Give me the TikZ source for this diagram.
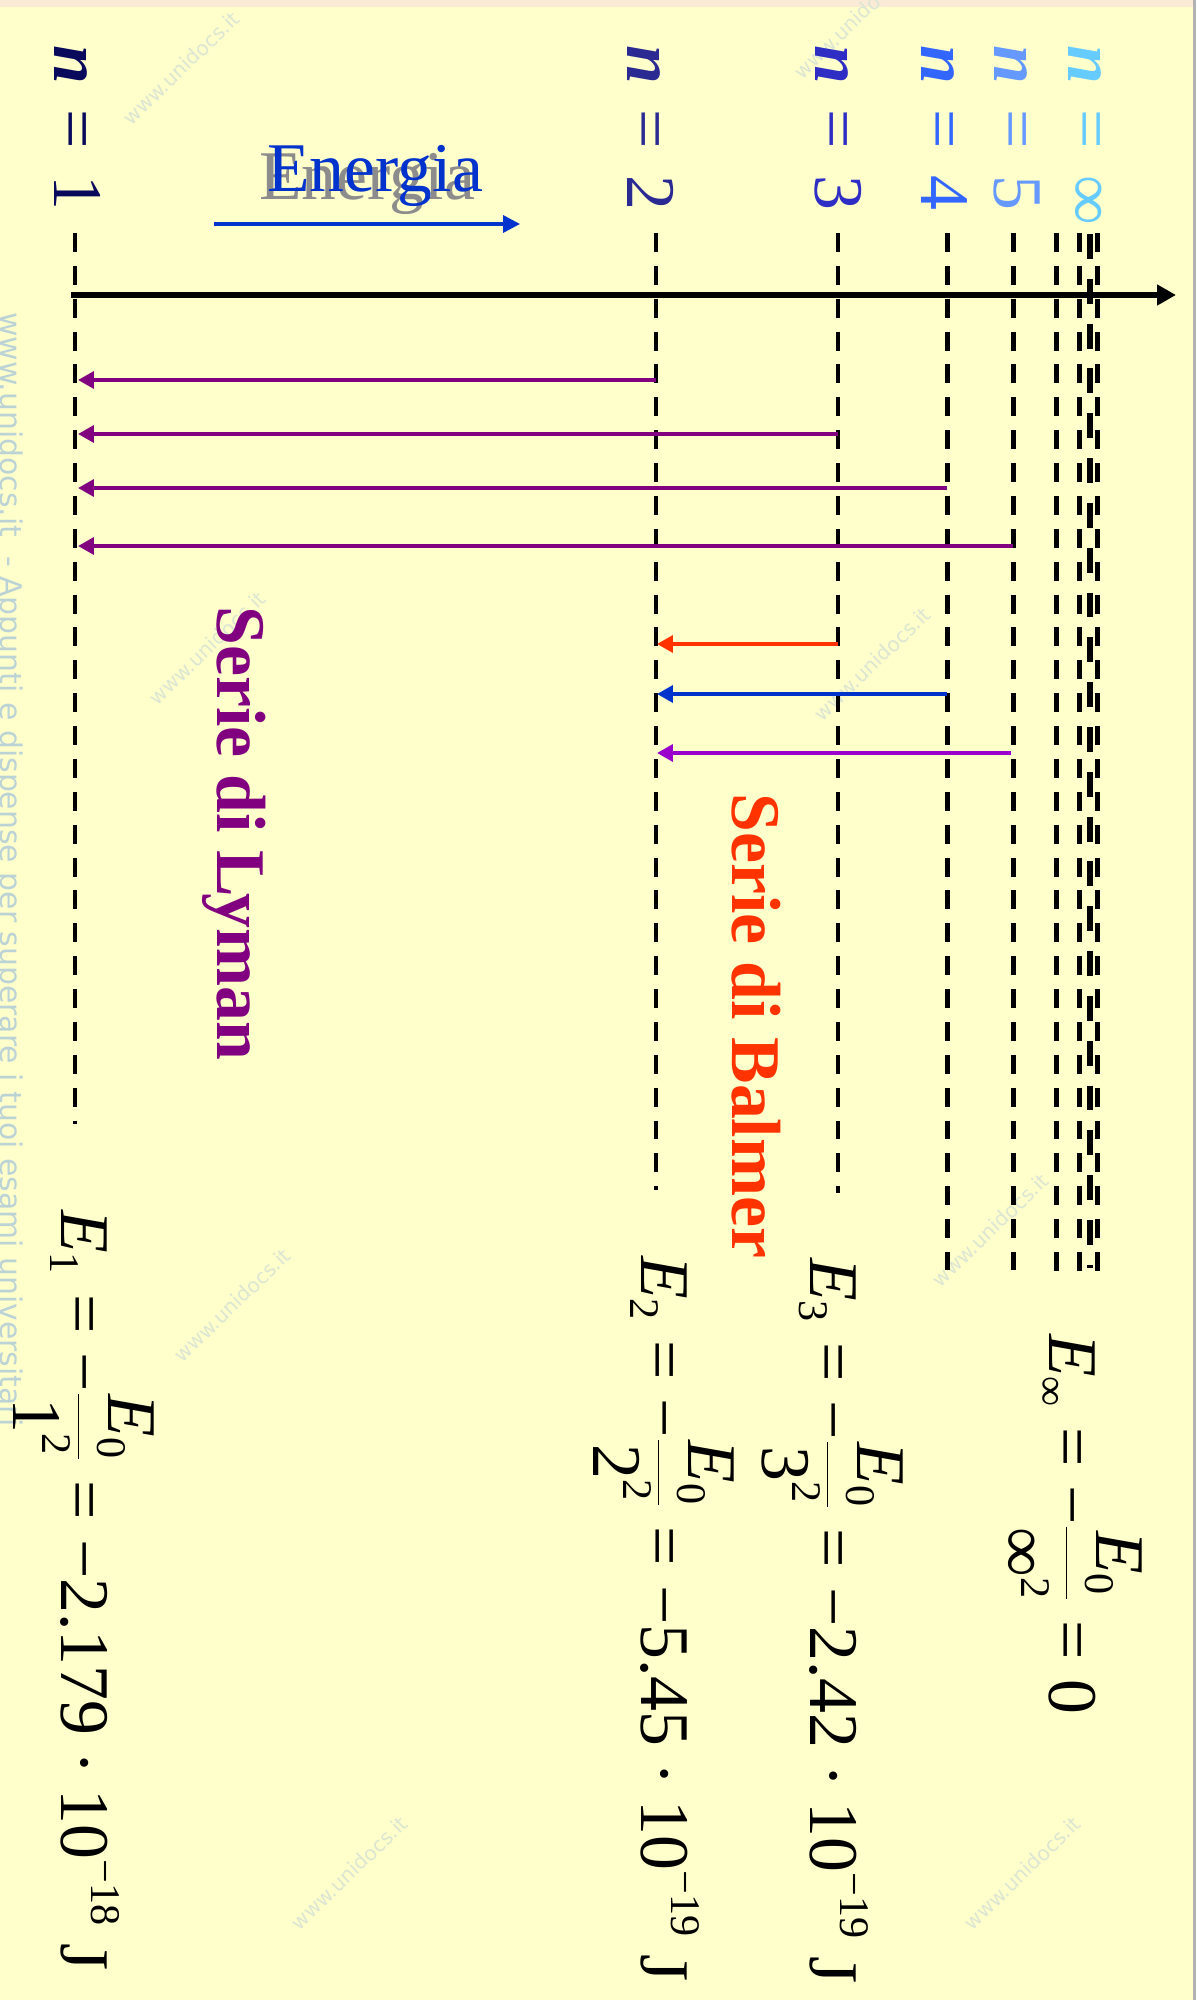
\RequirePackage{fix-cm}
\documentclass[tikz,border=0pt]{standalone}
\usepackage{amsmath}
\usepackage{fontspec}
\setmainfont{Liberation Serif}
\newfontfamily\wmfont{DejaVu Sans}
\usetikzlibrary{arrows.meta}
\DeclareMathSizes{39.7}{39.7}{24}{18}
\definecolor{bg}{HTML}{FFFFCC}
\definecolor{topstrip}{HTML}{FBEBD6}
\definecolor{cnone}{HTML}{0A0A5C}
\definecolor{cntwo}{HTML}{2A2A92}
\definecolor{cnthree}{HTML}{2E2EC4}
\definecolor{cnfour}{HTML}{3366FF}
\definecolor{cnfive}{HTML}{6699FF}
\definecolor{cninf}{HTML}{66CCFF}
\definecolor{enblue}{HTML}{0033CC}
\definecolor{lypurple}{HTML}{800080}
\definecolor{bared}{HTML}{FF3300}
\definecolor{bablue}{HTML}{0033CC}
\definecolor{baviolet}{HTML}{9900CC}
\definecolor{wm}{HTML}{BCD3D6}
\definecolor{wmtwo}{HTML}{DCE6D2}
\definecolor{shadowgray}{HTML}{8C8C8C}
\newcommand\slidefont{\fontsize{39.7pt}{48pt}\selectfont}
\newcommand\wmsize{\fontsize{17pt}{20pt}\selectfont}
\newcommand\wmsmall{\fontsize{11.5pt}{14pt}\selectfont}
\newcommand\tE{\textit{E}}
\newcommand\req{\mathrel{\textrm{=}}}
\newcommand\rmin{\mathord{\textrm{−}}}
\newcommand\rdot{\mathbin{\textrm{·}}}
\newcommand\tr[1]{\textrm{#1}}
\newcommand\nlab[1]{\textbf{\textit{n}}\hspace{0.37em}=\hspace{0.37em}#1}
\begin{document}
\begin{tikzpicture}[x=0.02cm,y=-0.02cm,
  level/.style={line width=2.83pt, dash pattern=on 10.77pt off 7.94pt},
  levelthick/.style={line width=3.4pt, dash pattern=on 14.17pt off 11.34pt},
  axisline/.style={line width=3.4pt, -{Triangle[length=10.8pt,width=11.3pt]}},
  transition/.style={line width=2.2pt, -{Triangle[length=9.1pt,width=9.6pt]}},
  nlabel/.style={rotate=-90, anchor=base west, inner sep=0pt, font=\slidefont},
  series/.style={rotate=-90, anchor=base west, inner sep=0pt, font=\slidefont\bfseries},
  eq/.style={rotate=-90, anchor=base west, inner sep=0pt, font=\slidefont},
  wmdiag/.style={rotate=44, inner sep=0pt, font=\wmfont\wmsmall, text=wmtwo}]
\useasboundingbox (0,0) rectangle (1196,2000);
\fill[bg] (0,0) rectangle (1196,2000);
\fill[topstrip] (0,0) rectangle (1196,7);
\draw[gray!60, line width=1.7pt] (1194.5,0) -- (1194.5,2000);
% watermarks
\node[rotate=-90, anchor=base west, inner sep=0pt, font=\wmfont\wmsize, text=wm] (wmleft) at (1,312) {www.unidocs.it\ \ - Appunti e dispense per superare i tuoi esami universitari};
\foreach \i/\px/\py in {a/181/68, b/852/22, c/207/648, d/872/664, e/990/1230, f/232/1305, g/349/1873, h/1022/1873}
  \node[wmdiag] (wm\i) at (\px,\py) {www.unidocs.it};
% energy levels
\foreach \nm/\x/\yb in {L1/75/1124, L2/656/1190, L3/838/1193, L4/947/1270, L5/1013/1270, L6/1056/1272, L7/1079/1272, L9/1097/1272}{
  \coordinate (\nm t) at (\x,233);
  \coordinate (\nm b) at (\x,\yb);
  \draw[level] (\nm t) -- (\nm b);
}
\coordinate (L8t) at (1090,234);
\coordinate (L8b) at (1090,1268);
\draw[levelthick] (L8t) -- (L8b);
% axis
\coordinate (ax0) at (71,295);
\coordinate (ax1) at (1176,295);
\draw[axisline] (ax0) -- (ax1);
% Lyman
\foreach \k/\x/\y in {2/656/380, 3/838/434, 4/947/488, 5/1013/546}{
  \coordinate (ly\k s) at (\x,\y);
  \coordinate (ly\k e) at (78,\y);
  \draw[transition, lypurple] (ly\k s) -- (ly\k e);
}
% Balmer
\coordinate (ba3s) at (838,644); \coordinate (ba3e) at (657,644);
\coordinate (ba4s) at (947,694); \coordinate (ba4e) at (657,694);
\coordinate (ba5s) at (1011,753); \coordinate (ba5e) at (657,753);
\draw[transition, bared] (ba3s) -- (ba3e);
\draw[transition, bablue] (ba4s) -- (ba4e);
\draw[transition, baviolet] (ba5s) -- (ba5e);
% level labels
\node[nlabel, text=cnone] (n1) at (54,45) {\nlab{1}};
\node[nlabel, text=cntwo] (n2) at (627,45) {\nlab{2}};
\node[nlabel, text=cnthree] (n3) at (815,45) {\nlab{3}};
\node[nlabel, text=cnfour] (n4) at (921,45) {\nlab{4}};
\node[nlabel, text=cnfive] (n5) at (994,45) {\nlab{5}};
\node[nlabel, text=cninf] (ninf) at (1068,45) {\nlab{∞}};
% Energia
\node[anchor=base west, inner sep=0pt, font=\slidefont, text=shadowgray] (ensh) at (259,200) {Energia};
\node[anchor=base west, inner sep=0pt, font=\slidefont, text=enblue] (en) at (267,192) {Energia};
\coordinate (ea0) at (214,224);
\coordinate (ea1) at (520,224);
\draw[line width=2pt, enblue, -{Triangle[length=9.6pt,width=9.6pt]}] (ea0) -- (ea1);
% series
\node[series, text=lypurple] (lyman) at (217,606) {Serie di Lyman};
\node[series, text=bared] (balmer) at (732,793) {Serie di Balmer};
% equations
\node[eq] (einf) at (1049,1334) {$\displaystyle \tE_{\tr{∞}}\req\rmin\frac{\tE_{\tr{0}}}{\tr{∞}^{\tr{2}}}\req\tr{0}$};
\node[eq] (ethree) at (810,1258) {$\displaystyle \tE_{\tr{3}}\req\rmin\frac{\tE_{\tr{0}}}{\tr{3}^{\tr{2}}}\req\rmin\tr{2.42}\rdot\tr{10}^{\tr{−19}}\ \tr{J}$};
\node[eq] (etwo) at (641,1256) {$\displaystyle \tE_{\tr{2}}\req\rmin\frac{\tE_{\tr{0}}}{\tr{2}^{\tr{2}}}\req\rmin\tr{5.45}\rdot\tr{10}^{\tr{−19}}\ \tr{J}$};
\node[eq] (eone) at (61,1210) {$\displaystyle \tE_{\tr{1}}\req\rmin\frac{\tE_{\tr{0}}}{\tr{1}^{\tr{2}}}\req\rmin\tr{2.179}\rdot\tr{10}^{\tr{−18}}\ \tr{J}$};
\end{tikzpicture}
\end{document}
